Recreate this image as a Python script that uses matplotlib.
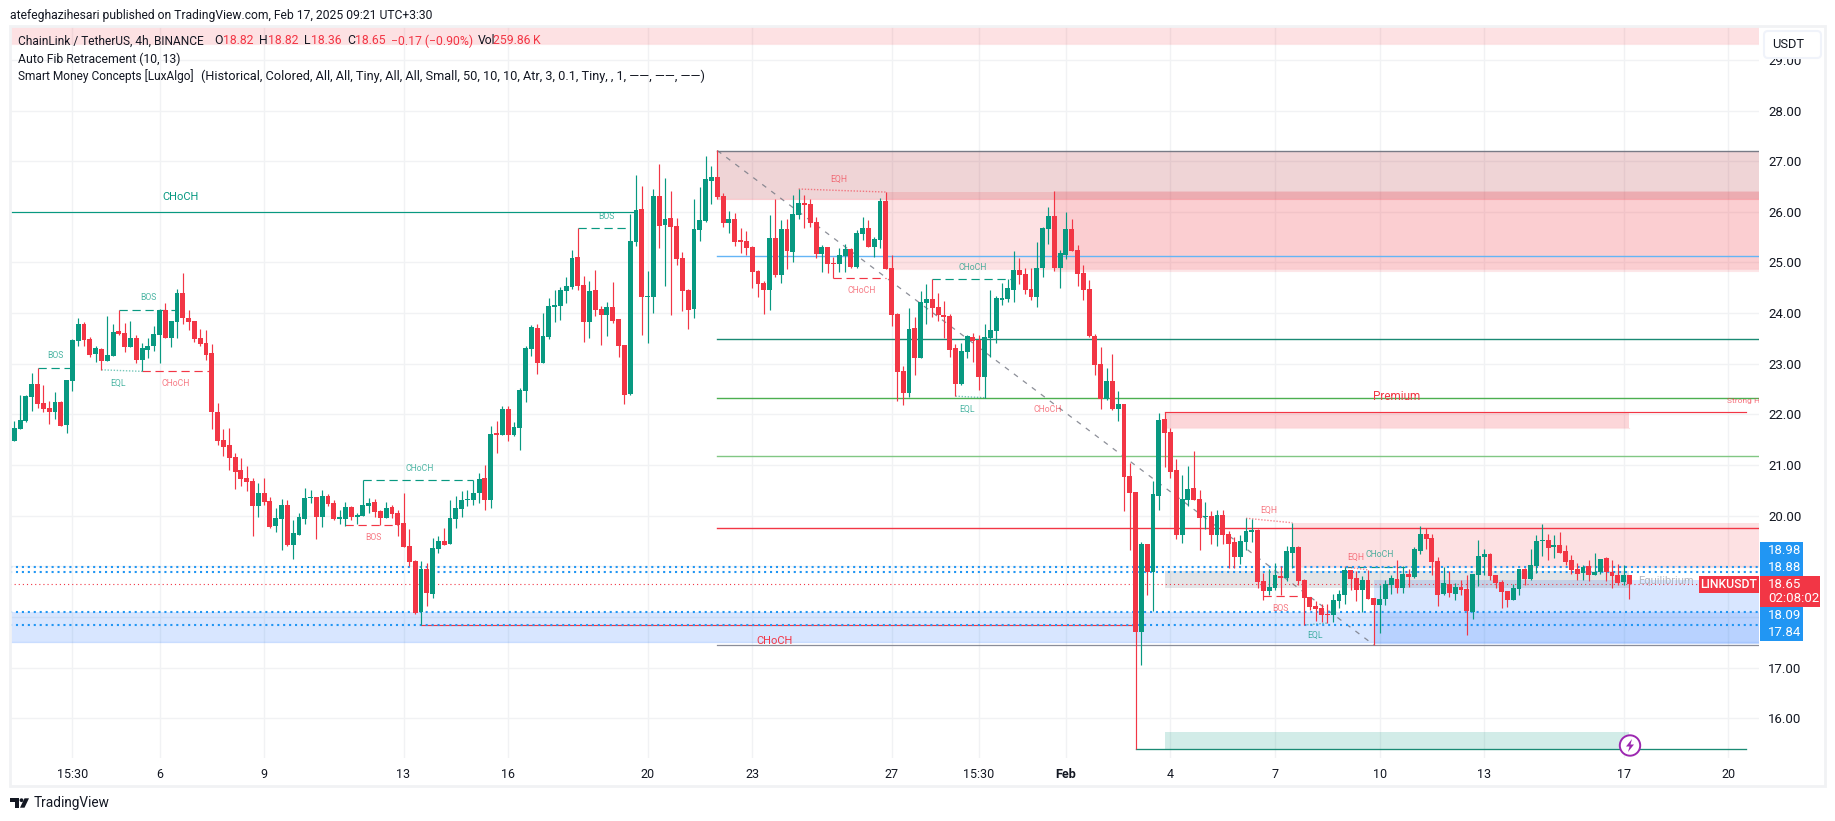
import matplotlib
matplotlib.use('Agg')
import matplotlib.pyplot as plt
from matplotlib.patches import Rectangle, Circle, Polygon, FancyBboxPatch

plt.rcParams['font.family'] = ['Roboto', 'DejaVu Sans']

# 4h candles
opens = [21.47,21.71,21.87,22.34,22.60,22.22,22.13,22.05,22.24,21.79,
22.66,23.45,23.78,23.49,23.19,23.29,23.05,23.15,23.65,23.61,
23.33,23.51,23.07,23.27,23.35,23.57,24.06,23.51,23.82,24.40,
23.90,23.84,23.51,23.41,23.21,22.05,21.49,21.40,21.16,20.90,
20.74,20.69,20.19,20.45,20.29,19.80,19.94,20.21,19.42,19.62,
19.94,20.35,20.37,19.97,20.39,20.25,19.94,19.94,20.17,19.97,
19.99,20.19,20.27,20.09,19.95,20.17,20.05,19.86,19.40,19.11,
18.10,18.95,18.45,19.34,19.50,19.44,19.94,20.13,20.31,20.31,
20.45,20.74,20.31,21.61,21.59,22.11,21.59,21.73,22.46,23.29,
23.71,23.02,23.53,24.13,24.14,24.44,24.52,25.11,24.56,23.83,
24.46,24.08,23.96,24.12,23.89,23.37,22.40,25.40,26.06,24.32,
24.32,26.31,25.74,25.88,25.72,25.09,24.46,24.08,25.64,25.82,
26.61,26.69,26.31,25.78,25.86,25.42,25.42,25.31,24.83,24.60,
24.46,25.48,24.75,25.66,25.21,25.94,26.17,26.15,25.80,25.17,
25.31,24.99,24.97,25.13,25.27,24.91,25.56,25.68,25.31,25.44,
26.21,24.89,23.98,22.86,22.42,23.71,23.12,24.20,24.28,24.12,
23.96,23.94,23.31,22.60,23.23,23.53,23.47,22.74,23.51,23.65,
24.26,24.28,24.46,24.85,24.77,24.48,24.32,24.89,25.66,25.92,
24.89,25.15,25.66,25.25,24.79,24.48,23.55,23.00,22.31,22.66,
22.11,22.21,20.78,20.47,17.70,19.44,18.89,20.39,21.91,21.65,
20.90,19.62,20.31,20.55,20.33,19.97,19.99,19.62,20.01,19.64,
19.48,19.19,19.48,19.68,19.72,18.71,18.51,18.57,18.81,18.77,
19.26,19.38,18.73,18.40,18.22,18.18,18.06,18.04,18.32,18.44,
18.93,18.77,18.53,18.73,18.38,18.24,18.36,18.63,18.75,18.57,
18.85,18.79,19.30,19.64,19.56,19.11,18.45,18.65,18.45,18.59,
18.55,18.10,18.83,19.18,19.24,18.83,18.69,18.51,18.34,18.55,
18.95,18.75,19.01,19.50,19.52,19.38,19.42,19.30,19.13,18.95,
18.87,19.01,18.83,18.89,19.17,18.89,18.83,18.69,18.82]
highs = [21.87,22.38,22.38,22.82,22.92,22.58,22.26,22.44,22.26,22.68,
23.48,23.90,23.82,23.53,23.35,23.31,23.94,23.78,24.06,23.80,
23.84,23.57,23.41,23.51,23.75,24.08,24.20,23.84,24.48,24.79,
24.06,23.84,23.69,23.67,23.39,22.22,21.71,21.73,21.24,21.14,
20.98,20.74,20.65,20.74,20.37,20.15,20.33,20.31,19.92,20.05,
20.55,20.51,20.37,20.51,20.43,20.31,20.11,20.27,20.19,20.05,
20.70,20.35,20.33,20.11,20.27,20.21,20.11,20.45,19.74,19.13,
19.11,19.07,19.56,19.60,19.76,20.31,20.39,20.49,20.51,20.70,
20.84,21.00,21.77,21.87,22.17,22.17,21.85,22.52,23.35,23.77,
23.79,24.00,24.30,24.46,24.52,24.71,25.25,25.68,24.73,24.64,
24.85,24.14,24.22,24.62,23.89,23.37,25.96,26.73,26.51,24.83,
26.45,26.94,26.67,26.41,25.88,25.21,24.48,26.25,26.49,27.10,
26.90,27.22,26.37,26.02,25.98,25.68,25.62,25.33,24.85,24.64,
25.94,26.25,25.84,25.86,26.33,26.45,26.33,26.25,25.90,25.35,
25.31,25.11,25.29,25.37,25.29,25.64,25.90,25.84,25.50,26.27,
26.39,25.15,24.00,22.96,24.10,23.92,24.44,24.58,24.67,24.40,
24.24,23.98,23.39,23.41,23.57,23.61,23.57,23.79,24.46,24.34,
24.59,24.67,25.23,25.09,24.89,24.89,25.40,25.70,26.10,26.41,
25.25,26.00,25.86,25.35,24.95,24.65,23.59,23.33,22.92,23.19,
22.46,22.21,21.04,20.47,19.48,19.44,20.69,22.03,22.05,21.73,
21.12,20.80,20.98,21.28,20.51,20.27,20.09,20.11,20.11,19.70,
19.58,19.62,19.95,19.94,19.74,18.87,18.95,19.07,19.01,19.40,
19.86,19.40,18.75,18.40,18.32,18.26,18.26,18.45,18.53,18.99,
18.93,18.90,18.81,18.93,18.38,18.63,18.73,18.83,19.13,19.01,
18.95,19.38,19.80,19.75,19.64,19.19,18.99,18.91,18.67,18.73,
18.83,18.85,19.52,19.34,19.26,18.83,18.73,18.51,18.65,18.95,
18.97,19.34,19.62,19.84,19.64,19.62,19.68,19.42,19.22,19.06,
19.03,19.13,19.26,19.15,19.19,19.13,19.05,19.03,18.82]
lows = [21.47,21.71,21.85,22.07,22.13,22.05,21.81,21.91,21.77,21.63,
22.46,23.35,23.35,23.13,23.03,22.88,23.05,23.15,23.57,23.23,
23.33,23.01,22.85,23.11,23.25,23.01,23.51,23.33,23.51,23.78,
23.67,23.43,23.35,23.07,21.71,21.40,21.18,20.90,20.53,20.59,
20.49,19.60,19.97,20.21,19.76,19.68,19.32,19.40,19.15,19.62,
19.84,20.25,19.54,19.78,20.19,19.92,19.84,19.80,19.92,19.84,
19.99,20.05,19.97,19.81,19.95,19.95,19.60,19.38,19.01,18.06,
17.84,18.22,18.38,19.26,19.42,19.44,19.76,19.97,20.19,20.21,
20.25,20.11,20.15,21.24,21.59,21.47,21.57,21.30,22.25,23.15,
22.80,23.02,23.49,23.83,23.87,24.20,24.48,24.46,23.43,23.51,
23.94,23.37,23.55,23.81,23.13,22.21,22.38,25.33,23.57,23.41,
24.00,25.29,24.54,23.96,24.95,24.04,23.69,23.90,25.42,25.80,
26.15,26.25,25.70,25.58,25.33,25.19,25.15,24.50,24.32,23.98,
24.06,24.71,24.60,24.87,25.01,25.86,25.68,25.70,25.09,24.81,
24.79,24.69,24.81,24.81,24.89,24.89,25.44,25.31,25.11,25.29,
24.87,23.75,22.27,22.19,22.35,22.78,23.12,23.79,23.92,23.85,
23.51,23.13,22.36,22.58,23.12,23.04,22.48,22.33,23.13,23.41,
24.16,24.22,24.22,24.58,24.38,24.26,24.12,24.71,25.37,24.83,
24.50,25.07,25.23,24.54,24.26,23.53,22.78,22.11,22.29,22.09,
21.87,20.09,19.32,15.39,17.05,18.44,18.12,20.11,20.96,20.74,
19.54,19.46,20.19,20.31,19.32,19.74,19.44,19.40,19.44,18.97,
18.97,19.05,19.32,19.48,18.57,18.34,18.44,18.53,18.44,18.71,
18.97,18.63,17.84,18.14,17.92,17.90,17.88,17.90,18.18,18.26,
18.53,18.32,18.10,18.36,17.45,17.69,18.24,18.45,18.47,18.47,
18.60,18.77,19.24,19.34,18.83,18.22,18.44,18.40,18.34,18.44,
17.65,17.96,18.61,18.83,18.73,18.57,18.18,18.20,18.34,18.44,
18.63,18.73,18.87,19.20,19.13,19.17,19.26,19.03,18.85,18.73,
18.73,18.71,18.83,18.85,18.71,18.57,18.63,18.63,18.36]
closes = [21.73,21.89,22.36,22.60,22.21,22.11,22.05,22.24,21.77,22.68,
23.47,23.78,23.47,23.17,23.31,23.05,23.17,23.63,23.59,23.33,
23.51,23.07,23.31,23.35,23.59,24.06,23.51,23.84,24.40,23.90,
23.82,23.49,23.39,23.17,22.05,21.47,21.36,21.14,20.86,20.72,
20.67,20.19,20.45,20.27,19.78,19.95,20.21,19.42,19.66,19.97,
20.35,20.37,19.97,20.39,20.23,19.94,19.95,20.17,19.97,20.01,
20.21,20.25,20.07,19.95,20.15,20.03,19.82,19.38,19.09,18.08,
18.95,18.47,19.36,19.50,19.42,19.95,20.15,20.31,20.33,20.45,
20.72,20.31,21.61,21.60,22.11,21.59,21.75,22.48,23.31,23.73,
23.02,23.55,24.14,24.16,24.46,24.54,25.09,24.54,23.83,24.44,
24.06,23.96,24.12,23.85,23.35,22.38,25.42,26.04,24.32,24.34,
26.31,25.72,25.86,25.70,25.07,24.44,24.06,25.66,25.84,26.65,
26.69,26.29,25.78,25.86,25.40,25.41,25.29,24.81,24.58,24.46,
25.48,24.75,25.66,25.23,25.96,26.17,26.13,25.78,25.17,25.31,
24.97,24.97,25.15,25.27,24.91,25.58,25.68,25.31,25.46,26.21,
24.87,23.96,22.84,22.42,23.69,23.12,24.22,24.28,24.10,23.96,
23.93,23.27,22.60,23.25,23.55,23.45,22.74,23.53,23.67,24.30,
24.30,24.50,24.85,24.75,24.46,24.32,24.89,25.68,25.92,24.89,
25.19,25.66,25.23,24.77,24.46,23.55,22.98,22.31,22.66,22.11,
22.21,20.76,20.45,17.70,19.44,18.89,20.43,21.89,21.63,20.86,
19.62,20.33,20.53,20.31,19.95,19.99,19.62,20.01,19.62,19.44,
19.19,19.50,19.70,19.72,18.69,18.51,18.59,18.83,18.77,19.30,
19.38,18.71,18.38,18.20,18.16,18.04,18.04,18.34,18.45,18.93,
18.75,18.53,18.73,18.36,18.24,18.36,18.65,18.77,18.57,18.85,
18.79,19.34,19.64,19.54,19.09,18.44,18.67,18.47,18.59,18.53,
18.12,18.85,19.20,19.24,18.81,18.67,18.49,18.34,18.57,18.95,
18.75,19.03,19.50,19.52,19.36,19.42,19.26,19.09,18.93,18.85,
18.99,18.83,18.89,19.15,18.89,18.81,18.67,18.83,18.65]

# time axis
time_ticks = [10, 25, 43, 67, 85, 109, 127, 151, 166, 181, 199, 217, 235, 253, 277, 295]
time_labels = ['15:30', '6', '9', '13', '16', '20', '23', '27', '15:30', 'Feb', '4', '7', '10', '13', '17', '20']
price_ticks = [16, 17, 18, 19, 20, 21, 22, 23, 24, 25, 26, 27, 28, 29]

# auto fib levels, all starting at the swing high
fib_start = 121
fib_blue = 25.12
fib_teal = 23.48
fib_green = 22.32
fib_light = 21.17
fib_red = 19.75
fib_top = 27.21
fib_bottom = 17.45
fib_trend_x = [121, 234]
fib_trend_y = [27.21, 17.45]

# order blocks: x start, x end (None means up to the edge), top, bottom
top_strip = (-1, None, 29.9, 29.32)
supply_a = (150, None, 26.39, 24.87)
supply_b = (179, None, 26.41, 24.84)
supply_c = (220, None, 19.85, 18.98)
premium_box = (198, 278, 22.04, 21.74)
grey_red_box = (121, None, 27.21, 26.26)
blue_boxes = [(-1, None, 18.10, 17.50), (234, None, 18.73, 17.48)]
grey_box = (198, 278, 18.90, 18.58)
green_box = (198, 278, 15.73, 15.39)

# market structure lines: x start, x end, price
green_solid = [(-1, 107, 25.99)]
red_solid = [(70, 193, 17.84), (198, 298, 22.04)]
teal_solid = [(193, 298, 15.39)]
green_dash = [(4, 10, 22.92), (18, 28, 24.06), (60, 79, 20.70), (97, 106, 25.68), (158, 172, 24.67), (229, 240, 18.99)]
red_dash = [(22, 34, 22.85), (57, 66, 19.81), (141, 150, 24.69), (215, 222, 18.42)]
green_dot = [(15, 22, 22.88, 22.85), (162, 167, 22.36, 22.33), (222, 226, 17.84, 17.88)]
red_dot = [(135, 150, 26.45, 26.39), (212, 220, 19.95, 19.86), (229, 233, 18.99, 18.93)]

blue_dotted = [18.98, 18.88, 18.09, 17.84]
last_price = 18.65

GREEN = '#089981'
RED = '#f23645'
GRID = '#f1f2f4'
TEXT = '#131722'

fig = plt.figure(figsize=(18.35, 8.21), dpi=100, facecolor='white')
ax = fig.add_axes([10 / 1835, (821 - 758) / 821, 1749 / 1835, 731 / 821])
ax.set_xlim(-0.74, 300.3)
ax.set_ylim(15.216, 29.649)
right = 300.3

for s in ax.spines.values():
    s.set_visible(False)
ax.set_xticks(time_ticks)
ax.set_xticklabels(time_labels)
ax.set_yticks(price_ticks)
ax.set_yticklabels(['%.2f' % p for p in price_ticks])
ax.yaxis.tick_right()
ax.tick_params(axis='both', length=0, labelcolor=TEXT)
ax.tick_params(axis='x', pad=7, labelsize=9)
ax.tick_params(axis='y', pad=6.5, labelsize=9.5)
for lab in ax.get_xticklabels():
    if lab.get_text() == 'Feb':
        lab.set_fontweight('bold')
ax.grid(True, color=GRID, lw=1)
ax.set_axisbelow(True)


def box(b, color, alpha, z=1):
    x0, x1, top, bottom = b
    if x1 is None:
        x1 = right
    ax.add_patch(Rectangle((x0, bottom), x1 - x0, top - bottom, facecolor=color,
                           alpha=alpha, edgecolor='none', zorder=z))


for b, a in [(top_strip, 0.15), (supply_a, 0.15), (supply_b, 0.11), (supply_c, 0.15), (premium_box, 0.2)]:
    box(b, RED, a)
    ax.plot([b[0], right if b[1] is None else b[1]], [b[3], b[3]], color=RED, alpha=0.12, lw=0.8, zorder=1)
box(grey_red_box, '#b22833', 0.2)
ax.plot([grey_red_box[0], right], [grey_red_box[3], grey_red_box[3]], color=RED, alpha=0.25, lw=0.8, zorder=1)
for b in blue_boxes:
    box(b, '#2979ff', 0.18)
    ax.plot([b[0], right], [b[3], b[3]], color='#2979ff', alpha=0.25, lw=0.9, zorder=1)
box(grey_box, '#787b86', 0.2)
box(green_box, GREEN, 0.18)

# fib lines
ax.plot([fib_start, right], [fib_top, fib_top], color='#787b86', lw=1, zorder=2)
ax.plot([fib_start, right], [fib_bottom, fib_bottom], color='#8a8d99', lw=0.9, zorder=2)
ax.plot([fib_start, right], [fib_blue, fib_blue], color='#64b5f6', lw=1, zorder=2)
ax.plot([fib_start, right], [fib_teal, fib_teal], color='#1a8a74', lw=1, zorder=2)
ax.plot([fib_start, right], [fib_green, fib_green], color='#4caf50', lw=1, zorder=2)
ax.plot([fib_start, right], [fib_light, fib_light], color='#81c784', lw=1, zorder=2)
ax.plot([fib_start, right], [fib_red, fib_red], color=RED, lw=1, zorder=2)
ax.plot(fib_trend_x, fib_trend_y, color='#787b86', alpha=0.85, lw=0.9, ls=(0, (4, 5)), zorder=2)

# structure lines
for x0, x1, p in green_solid:
    ax.plot([x0, x1], [p, p], color=GREEN, lw=0.85, zorder=2)
for x0, x1, p in red_solid:
    ax.plot([x0, x1], [p, p], color=RED, lw=0.85, zorder=2)
for x0, x1, p in teal_solid:
    ax.plot([x0, x1], [p, p], color='#1a8a74', lw=0.95, zorder=2)
for x0, x1, p in green_dash:
    ax.plot([x0, x1], [p, p], color=GREEN, lw=0.85, ls=(0, (7, 4)), zorder=2)
for x0, x1, p in red_dash:
    ax.plot([x0, x1], [p, p], color=RED, lw=0.85, ls=(0, (7, 4)), zorder=2)
for x0, x1, p0, p1 in green_dot:
    ax.plot([x0, x1], [p0, p1], color=GREEN, alpha=0.55, lw=1.0, ls=(0, (1, 1.2)), zorder=2)
for x0, x1, p0, p1 in red_dot:
    ax.plot([x0, x1], [p0, p1], color=RED, alpha=0.6, lw=1.0, ls=(0, (1, 1.2)), zorder=2)

# dotted price lines
for p in blue_dotted:
    ax.axhline(p, color='#2196f3', lw=1.5, ls=(0, (1, 1.85)), zorder=2.5)
ax.axhline(last_price, color=RED, lw=0.8, ls=(0, (1, 2.7)), zorder=2.5)

# candles
xs = list(range(len(opens)))
cols = [GREEN if c >= o else RED for o, c in zip(opens, closes)]
ax.vlines(xs, lows, highs, colors=cols, lw=0.85, zorder=3)
tops = [max(o, c) for o, c in zip(opens, closes)]
bots = [min(o, c) for o, c in zip(opens, closes)]
hts = [max(t - b, 0.025) for t, b in zip(tops, bots)]
ax.bar(xs, hts, bottom=bots, width=0.84, color=cols, linewidth=0, zorder=3.5)

# everything outside the scales goes on a pixel overlay
ov = fig.add_axes([0, 0, 1, 1], zorder=5)
ov.set_xlim(0, 1835)
ov.set_ylim(821, 0)
ov.axis('off')
plot_clip = Rectangle((10, 27), 1749, 731, transform=ov.transData)


def txt(x, y, s, color=TEXT, size=9.2, ha='left', **kw):
    return ov.text(x, y, s, color=color, fontsize=size, ha=ha, va='center', **kw)


# frame round the chart
ov.add_patch(Rectangle((9.5, 26.5), 1815.5, 759.5, fill=False, edgecolor='#f1f2f4', lw=2))

# header and legend
txt(10, 15, 'atefeghazihesari published on TradingView.com, Feb 17, 2025 09:21 UTC+3:30', size=8.7)
txt(18, 41, 'ChainLink / TetherUS, 4h, BINANCE', size=8.6)
for x, s, c in [(214.7, 'O', TEXT), (223, '18.82', RED), (259, 'H', TEXT), (267.6, '18.82', RED),
                (304, 'L', TEXT), (310.7, '18.36', RED), (347, 'C', TEXT), (354.8, '18.65', RED),
                (390.7, '\u22120.17 (\u22120.90%)', RED), (477.5, 'Vol', TEXT), (493, '259.86\u2009K', RED)]:
    txt(x, 41, s, color=c, size=8.8)
txt(18, 59, 'Auto Fib Retracement (10, 13)', size=8.8)
txt(18, 76, 'Smart Money Concepts [LuxAlgo]', size=8.6)
txt(201, 76, '(Historical, Colored, All, All, Tiny, All, All, Small, 50, 10, 10, '
    'Atr, 3, 0.1, Tiny, , 1, \u2014\u2014, \u2014\u2014, \u2014\u2014)', size=9.2)

# structure labels
gl = dict(color=GREEN, alpha=0.72, ha='center')
rl = dict(color=RED, alpha=0.66, ha='center')
for x, y, s in [(55, 355, 'BOS'), (148, 298, 'BOS'), (118, 383, 'EQL'), (420, 468.7, 'CHoCH'), (606.7, 216.7, 'BOS'),
                (972.3, 267.7, 'CHoCH'), (966.7, 409.7, 'EQL'), (1315.3, 635.7, 'EQL'), (1379.3, 554.5, 'CHoCH')]:
    txt(x, y, s, size=6.2, **gl)
for x, y, s in [(176, 383, 'CHoCH'), (373.7, 537, 'BOS'), (838.3, 179.3, 'EQH'), (861.3, 290.7, 'CHoCH'),
                (1047.3, 409.7, 'CHoCH'), (1268.3, 510.7, 'EQH'), (1280.7, 608.3, 'BOS'), (1356, 557.7, 'EQH')]:
    txt(x, y, s, size=6.2, **rl)
txt(181, 197, 'CHoCH', size=8, color=GREEN, ha='center')
txt(775, 641, 'CHoCH', size=8, color=RED, ha='center')
txt(1397, 397, 'Premium', size=8.5, color=RED, ha='center')
txt(1666, 581.5, 'Equilibrium', size=8, color='#b2b5be', ha='center')
t = txt(1727, 400.5, 'Strong High', size=6, color=RED, alpha=0.7)
t.set_clip_on(True)
t.set_clip_path(plot_clip)

# USDT button
ov.add_patch(FancyBboxPatch((1764, 31), 57, 27, boxstyle='round,pad=0,rounding_size=4',
                            facecolor='white', edgecolor='#f0f3fa', lw=1.5))
txt(1772, 44.5, 'USDT', size=9.3)

# price tags
ov.add_patch(Rectangle((1760, 542), 43, 34, facecolor='#2196f3', edgecolor='none'))
ov.add_patch(Rectangle((1760, 606.7), 43, 34, facecolor='#2196f3', edgecolor='none'))
ov.add_patch(Rectangle((1760, 576), 60, 30.7, facecolor=RED, edgecolor='none'))
ov.add_patch(Rectangle((1699, 576), 60, 17, facecolor=RED, edgecolor='none'))
for y, s in [(551, '18.98'), (567.5, '18.88'), (615.5, '18.09'), (632.5, '17.84')]:
    txt(1768, y, s, color='white', size=9.5)
txt(1768, 584.5, '18.65', color='white', size=9.5)
txt(1768, 598.5, '02:08:02', color='white', size=9.5)
txt(1729, 584.5, 'LINKUSDT', color='white', size=8.8, ha='center', fontweight='medium')

# lightning marker on the last bar
ov.add_patch(Circle((1630, 745.5), 10.2, facecolor='white', edgecolor='#9c27b0', lw=1.4))
ov.add_patch(Polygon([(1632, 739), (1626, 746.5), (1629.5, 746.5), (1628, 752), (1634, 744.5), (1630.5, 744.5)],
                     closed=True, facecolor='#9c27b0', edgecolor='none'))

# logo
ov.add_patch(Polygon([(9.6, 798.3), (19, 798.3), (19, 807.7), (14.5, 807.7), (14.5, 802), (9.6, 802)],
                     closed=True, facecolor=TEXT, edgecolor='none'))
ov.add_patch(Circle((21.5, 800.2), 1.9, facecolor=TEXT, edgecolor='none'))
ov.add_patch(Polygon([(24.5, 798.3), (29, 798.3), (24.5, 807.7), (20, 807.7)],
                     closed=True, facecolor=TEXT, edgecolor='none'))
txt(33.5, 803.5, 'TradingView', size=9.8)

fig.savefig('out.png', dpi=100)
